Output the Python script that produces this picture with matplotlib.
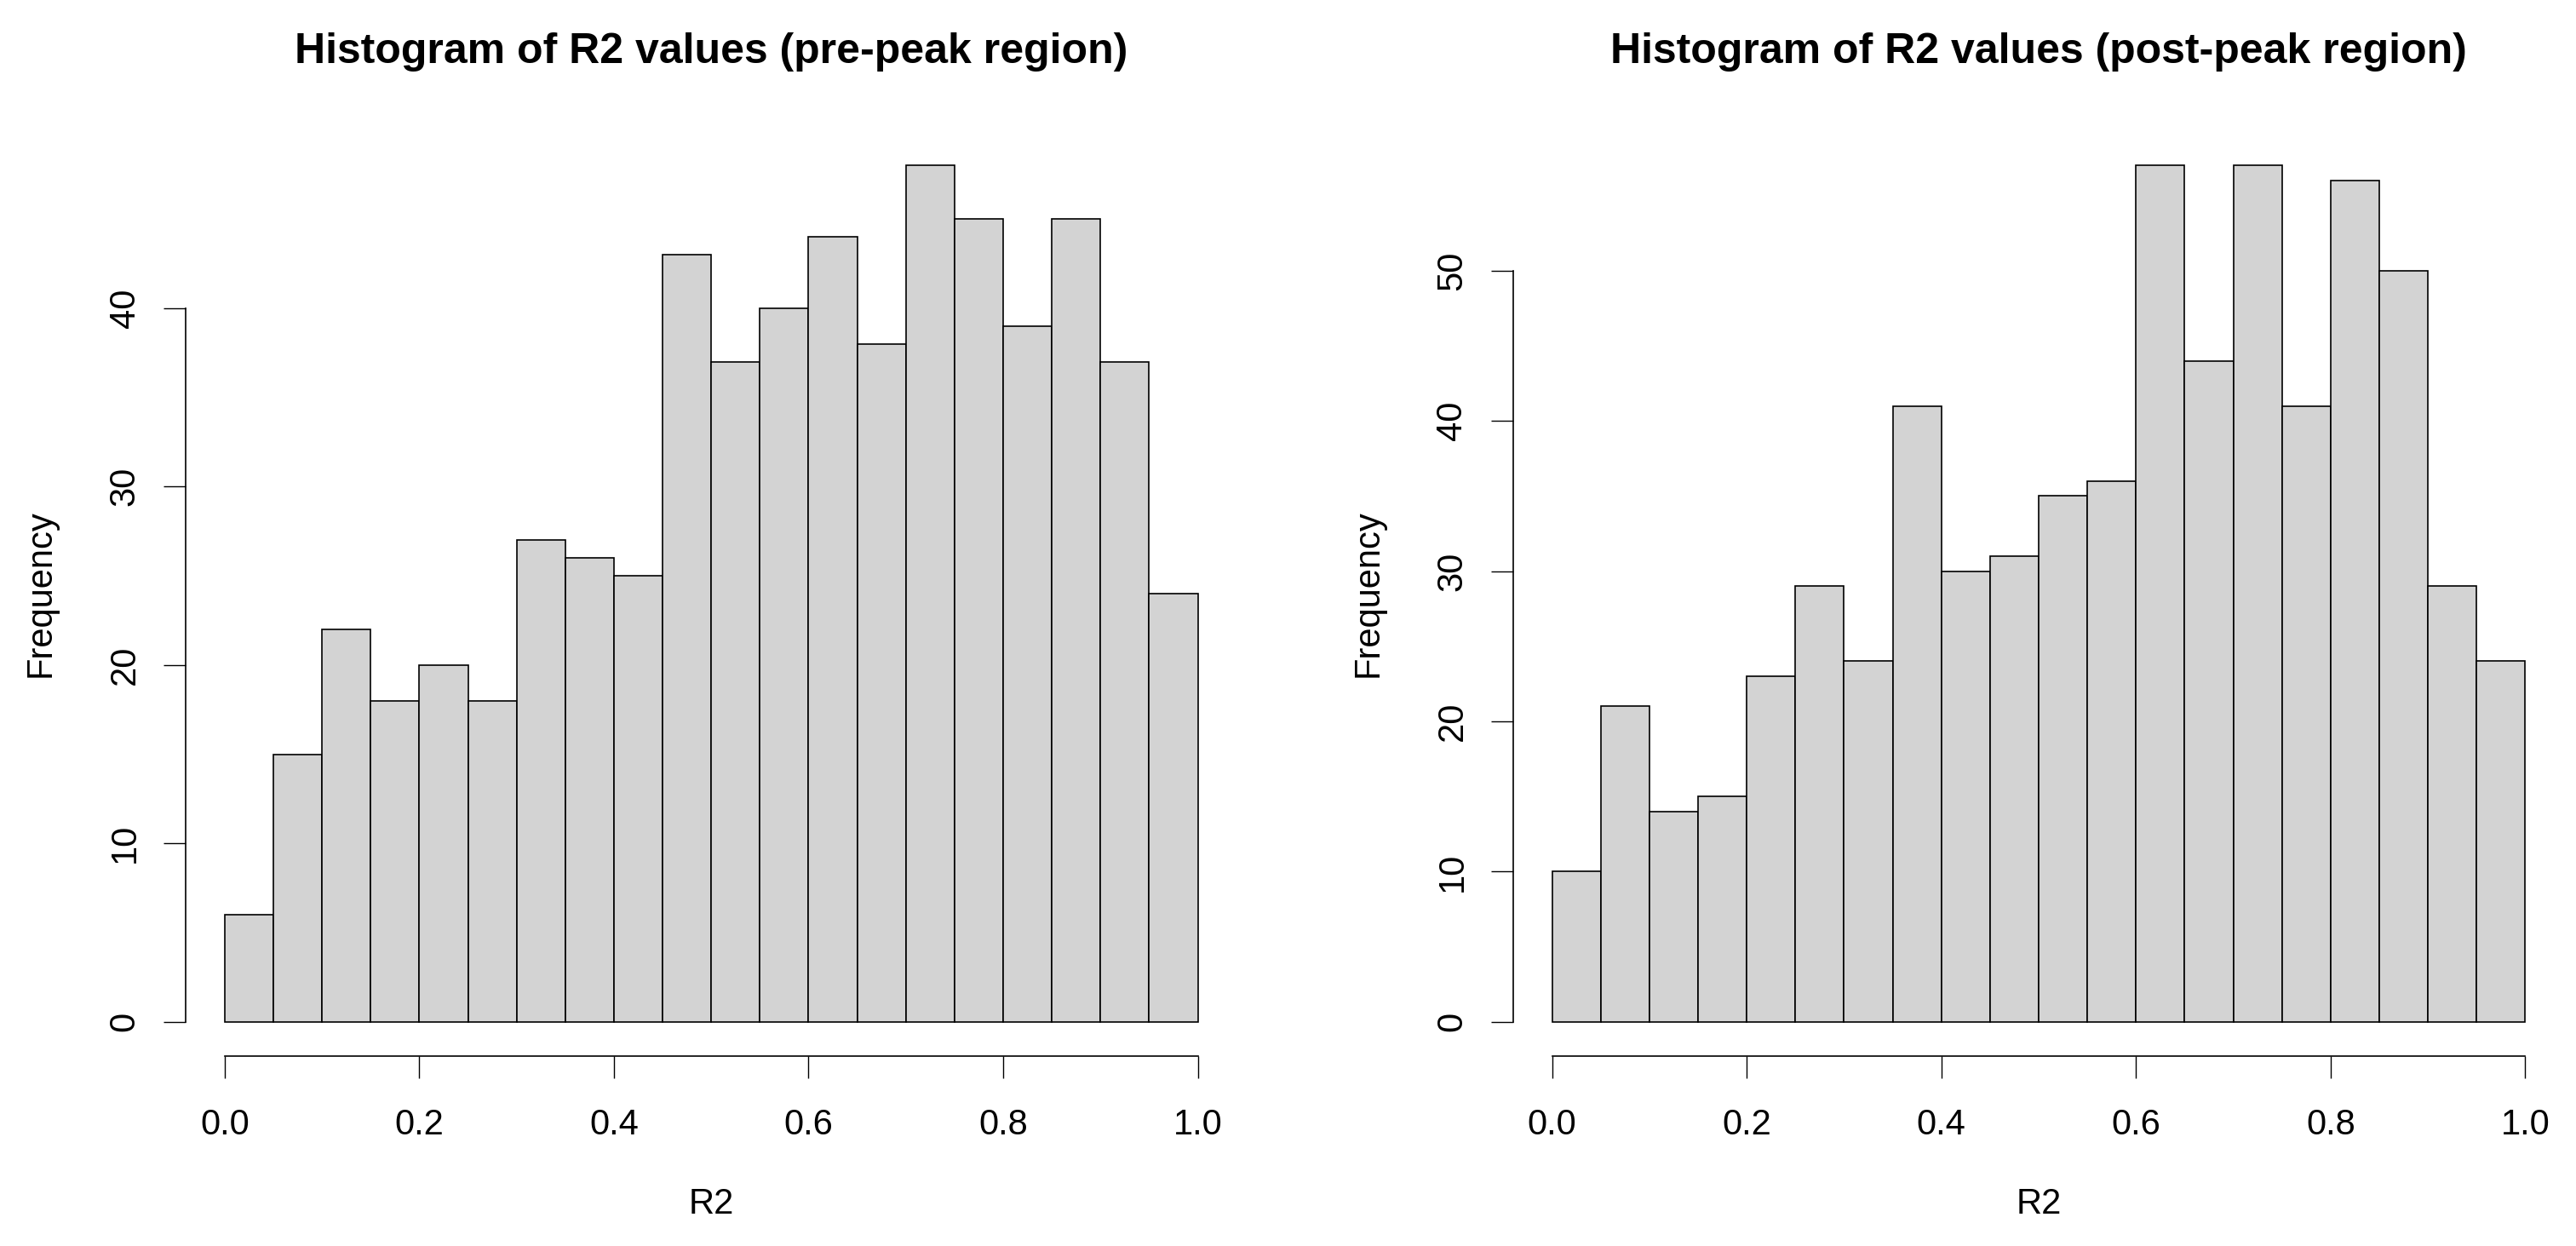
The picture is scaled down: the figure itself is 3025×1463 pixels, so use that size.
import numpy as np
import matplotlib.pyplot as plt

# -------- datos --------
bordes = np.linspace(0.0, 1.0, 21)

frec_pre = [6, 15, 22, 18, 20, 18, 27, 26, 25, 43,
            37, 40, 44, 38, 48, 45, 39, 45, 37, 24]
frec_post = [10, 21, 14, 15, 23, 29, 24, 41, 30, 31,
             35, 36, 57, 44, 57, 41, 56, 50, 29, 24]

titulos = ["Histogram of R2 values (pre-peak region)",
           "Histogram of R2 values (post-peak region)"]
yticks = [[0, 10, 20, 30, 40], [0, 10, 20, 30, 40, 50]]
xticks = [0.0, 0.2, 0.4, 0.6, 0.8, 1.0]

plt.rcParams['font.family'] = ['Liberation Sans', 'DejaVu Sans']

fig = plt.figure(figsize=(30.25, 14.63), dpi=100)
posiciones = [[0.0721, 0.1524, 0.408, 0.7423],
              [0.5874, 0.1524, 0.408, 0.7423]]

for pos, frec, titulo, yt in zip(posiciones, [frec_pre, frec_post], titulos, yticks):
    ax = fig.add_axes(pos)
    ax.bar(bordes[:-1], frec, width=np.diff(bordes), align='edge',
           color='#d3d3d3', edgecolor='black', linewidth=1.2)

    ymax = max(frec)
    ax.set_xlim(-0.04, 1.04)
    ax.set_ylim(-0.04 * ymax, 1.04 * ymax)

    # ejes estilo R
    ax.spines['top'].set_visible(False)
    ax.spines['right'].set_visible(False)
    ax.spines['left'].set_bounds(yt[0], yt[-1])
    ax.spines['bottom'].set_bounds(0.0, 1.0)
    ax.spines['left'].set_linewidth(1.2)
    ax.spines['bottom'].set_linewidth(1.2)

    ax.set_xticks(xticks)
    ax.set_xticklabels([f"{t:.1f}" for t in xticks])
    ax.set_yticks(yt)
    ax.tick_params(axis='both', length=19, width=1.0, labelsize=30)
    ax.tick_params(axis='x', pad=25)
    ax.tick_params(axis='y', pad=18, labelrotation=90)
    for lab in ax.get_yticklabels():
        lab.set_va('center')

    ax.set_xlabel("R2", fontsize=30, va='center')
    ax.xaxis.set_label_coords(0.5, -0.160)
    ax.set_ylabel("Frequency", fontsize=30, va='center')
    ax.yaxis.set_label_coords(-0.1378, 0.5)

    ax.set_title(titulo, fontsize=36, fontweight='bold', y=1.078, va='center')

plt.savefig("out.png", dpi=100)
